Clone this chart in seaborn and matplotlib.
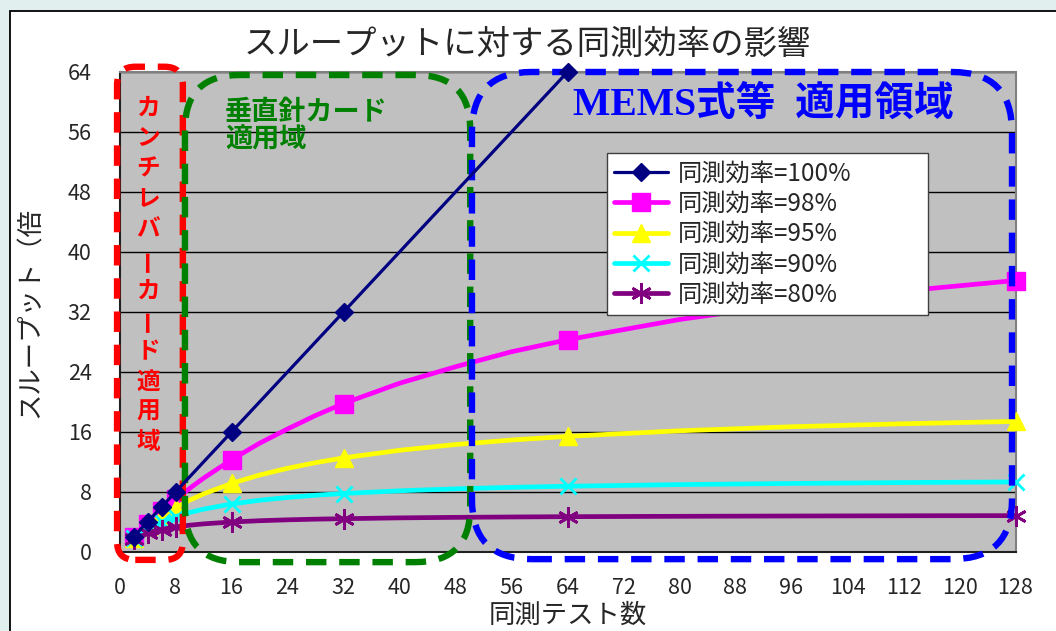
import matplotlib
matplotlib.use("Agg")
import matplotlib.pyplot as plt
import seaborn as sns
from matplotlib.patches import FancyBboxPatch, Rectangle

sns.set_style("white")
plt.rcParams["font.family"] = ["Noto Sans CJK JP", "DejaVu Sans"]

# ---- data -------------------------------------------------------------
test_counts = [2, 4, 6, 8, 10, 12, 16, 20, 24, 28, 32, 40, 48, 56, 64, 80, 96, 112, 128]
marked_counts = [2, 4, 6, 8, 16, 32, 64, 128]

ideal_counts = [2, 4, 6, 8, 16, 32, 64]
eff100 = [2, 4, 6, 8, 16, 32, 64]
eff98 = [1.96, 3.77, 5.45, 7.02, 8.47, 9.84, 12.3, 14.5, 16.4, 18.2, 19.8,
         22.5, 24.7, 26.7, 28.3, 31.0, 33.1, 34.8, 36.2]
eff95 = [1.90, 3.48, 4.80, 5.93, 6.90, 7.74, 9.14, 10.26, 11.16, 11.91, 12.55,
         13.56, 14.33, 14.93, 15.42, 16.16, 16.70, 17.10, 17.41]
eff90 = [1.82, 3.08, 4.00, 4.71, 5.26, 5.71, 6.40, 6.90, 7.27, 7.57, 7.80,
         8.16, 8.42, 8.62, 8.77, 8.99, 9.14, 9.26, 9.34]
eff80 = [1.67, 2.50, 3.00, 3.33, 3.57, 3.75, 4.00, 4.17, 4.29, 4.38, 4.44,
         4.55, 4.62, 4.67, 4.71, 4.76, 4.80, 4.83, 4.85]

series_labels = ["同測効率=100%", "同測効率=98%", "同測効率=95%",
                 "同測効率=90%", "同測効率=80%"]
x_ticks = list(range(0, 129, 8))
y_ticks = list(range(0, 65, 8))

title_text = "スループットに対する同測効率の影響"
x_label = "同測テスト数"
y_label = "スループット（倍"
cantilever_text = "カンチレバーカード適用域"
vertical_lines = ["垂直針カード", "適用域"]
mems_text = "MEMS式等  適用領域"

# ---- figure -----------------------------------------------------------
fig = plt.figure(figsize=(10.56, 6.31), dpi=100)
fig.patch.set_facecolor("#E2EFEF")
fig.add_artist(Rectangle((10 / 1056, -0.02), 1.05, (631 - 11) / 631 + 0.02,
                         transform=fig.transFigure, facecolor="white",
                         edgecolor="black", lw=1.3, zorder=-5))

ax = fig.add_axes([119.5 / 1056, 79 / 631, 896 / 1056, 480 / 631])
ax.set_facecolor("#C0C0C0")

mark_idx = [test_counts.index(c) for c in marked_counts]

sns.lineplot(x=ideal_counts, y=eff100, ax=ax, color="#000080", lw=2.3,
             marker="D", markersize=9.5, markeredgecolor="#000080",
             markeredgewidth=1, label=series_labels[0], clip_on=False, zorder=6)

styles = [
    (eff98, "#FF00FF", "s", 13, 1.0),
    (eff95, "#FFFF00", "^", 13, 1.0),
    (eff90, "#00FFFF", "x", 12, 2.0),
    (eff80, "#800080", (6, 2, 0), 15, 2.0),
]
for (vals, col, mk, ms, mew), lab in zip(styles, series_labels[1:]):
    sns.lineplot(x=test_counts, y=vals, ax=ax, color=col, lw=3.4,
                 marker=mk, markersize=ms, markevery=mark_idx,
                 markeredgecolor=col, markeredgewidth=mew,
                 label=lab, clip_on=False, zorder=3)

ax.set_xlim(0, 128)
ax.set_ylim(0, 64)
ax.set_xticks(x_ticks)
ax.set_yticks(y_ticks)
ax.yaxis.grid(True, color="black", lw=1)
ax.xaxis.grid(False)
ax.set_axisbelow(True)
for side in ("left", "bottom"):
    ax.spines[side].set_color("#202020")
    ax.spines[side].set_linewidth(1.5)
for side in ("top", "right"):
    ax.spines[side].set_color("#808080")
    ax.spines[side].set_linewidth(1.5)
ax.tick_params(axis="both", direction="in", length=5, width=1, color="black",
               labelsize=15.5)
ax.tick_params(axis="y", pad=20)
ax.tick_params(axis="x", pad=18)

ax.set_xlabel(x_label, fontsize=19)
ax.xaxis.set_label_coords(0.5, -0.103)
ax.set_ylabel(y_label, fontsize=19, va="center")
ax.yaxis.set_label_coords(-0.1, 0.5)

fig.text(0.499, 0.929, title_text, fontsize=24, ha="center", va="center")

# ---- legend -----------------------------------------------------------
leg = ax.legend(loc="upper left", bbox_to_anchor=(0.544, 0.49, 0.358, 0.341),
                mode="expand", borderaxespad=0, fontsize=17.5, frameon=True,
                fancybox=False, framealpha=1, edgecolor="#404040",
                handlelength=2.2, handletextpad=0.4, labelspacing=0.18,
                borderpad=0.3)
leg.get_frame().set_linewidth(1.0)
leg.set_zorder(7)

# ---- dashed application regions ------------------------------------------
aspect = 7.0 / 7.5
regions = [
    # (x0, y0, x1, y1, radius, colour)
    (-0.35, -1.05, 9.05, 64.7, 2.6, "#FF0000"),
    (9.35, -1.35, 50.1, 63.6, 7.8, "#008000"),
    (50.35, -0.95, 127.5, 64.0, 8.5, "#0000FF"),
]
for x0, y0, x1, y1, r, col in regions:
    ax.add_patch(FancyBboxPatch((x0, y0), x1 - x0, y1 - y0,
                                boxstyle=f"round,pad=0,rounding_size={r}",
                                mutation_aspect=aspect, fill=False,
                                edgecolor=col, lw=4.6,
                                linestyle=(0, (3.2, 2.0)),
                                clip_on=False, zorder=5))

# vertical label inside the cantilever region
y_top, step = 59.2, 4.05
for i, ch in enumerate(cantilever_text):
    ax.text(4.1, y_top - i * step, ch, color="#FF0000", fontsize=17,
            fontweight="bold", ha="center", va="center",
            rotation=90 if ch == "ー" else 0, zorder=6)

for i, line in enumerate(vertical_lines):
    ax.text(15.1, 58.7 - i * 3.75, line, color="#008000", fontsize=19.5,
            fontweight="bold", ha="left", va="center", zorder=6)

ax.text(64.8, 59.6, mems_text, color="#0000FF", fontsize=28.5,
        fontweight="bold", family=["Liberation Serif", "Noto Sans CJK JP"],
        ha="left", va="center", zorder=6)

fig.savefig("out.png", dpi=100, facecolor=fig.get_facecolor())
